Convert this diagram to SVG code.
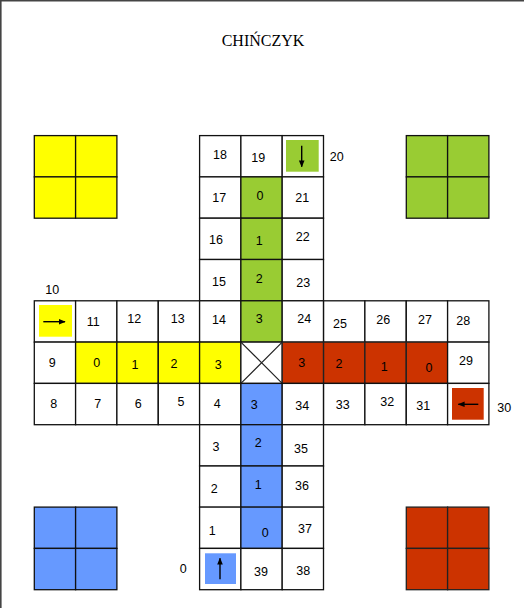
<svg xmlns="http://www.w3.org/2000/svg" width="524" height="608" viewBox="0 0 524 608">
<style>
.bg{fill:#ffffff}
.c{fill:#ffffff;stroke:#111;stroke-width:1.3}
.y{fill:#ffff00;stroke:#111;stroke-width:1.3}
.g{fill:#99cc33;stroke:#111;stroke-width:1.3}
.r{fill:#cc3300;stroke:#222;stroke-width:1.3}
.b{fill:#6699ff;stroke:#111;stroke-width:1.3}
.t{font-family:"Liberation Sans",Arial,sans-serif;font-size:12.5px;fill:#000;text-anchor:middle}
.title{font-family:"Liberation Serif","Times New Roman",serif;font-size:16px;fill:#000;text-anchor:middle}
.ar{stroke:#000;stroke-width:1.4;fill:none}
.xl{stroke:#222;stroke-width:1.2}
</style>
<defs>
<marker id="ah" viewBox="0 0 10 10" refX="9" refY="5" markerWidth="7" markerHeight="7" markerUnits="userSpaceOnUse" orient="auto">
<path d="M0,1 L10,5 L0,9 Z" fill="#000"/>
</marker>
</defs>
<rect class="bg" x="0" y="0" width="524" height="608"/>
<path d="M0.8,608 L0.8,0.8 L524,0.8" stroke="#444" stroke-width="1.6" fill="none"/>
<text class="title" x="263" y="45.7">CHIŃCZYK</text>

<!-- corner home areas -->
<g id="home-yellow">
<rect class="y" x="34.3" y="135.6" width="41.3" height="41.3"/><rect class="y" x="75.6" y="135.6" width="41.3" height="41.3"/>
<rect class="y" x="34.3" y="176.9" width="41.3" height="41.3"/><rect class="y" x="75.6" y="176.9" width="41.3" height="41.3"/>
</g>
<g id="home-green">
<rect class="g" x="406.3" y="135.6" width="41.3" height="41.3"/><rect class="g" x="447.6" y="135.6" width="41.3" height="41.3"/>
<rect class="g" x="406.3" y="176.9" width="41.3" height="41.3"/><rect class="g" x="447.6" y="176.9" width="41.3" height="41.3"/>
</g>
<g id="home-blue">
<rect class="b" x="34.3" y="507.1" width="41.3" height="41.3"/><rect class="b" x="75.6" y="507.1" width="41.3" height="41.3"/>
<rect class="b" x="34.3" y="548.4" width="41.3" height="41.3"/><rect class="b" x="75.6" y="548.4" width="41.3" height="41.3"/>
</g>
<g id="home-red">
<rect class="r" x="406.3" y="507.1" width="41.3" height="41.3"/><rect class="r" x="447.6" y="507.1" width="41.3" height="41.3"/>
<rect class="r" x="406.3" y="548.4" width="41.3" height="41.3"/><rect class="r" x="447.6" y="548.4" width="41.3" height="41.3"/>
</g>

<!-- top arm -->
<g id="cell-18"><rect class="c" x="199.6" y="135.6" width="41.3" height="41.3"/><text class="t" x="220" y="159">18</text></g>
<g id="cell-19"><rect class="c" x="240.9" y="135.6" width="41.3" height="41.3"/><text class="t" x="258.3" y="161.7">19</text></g>
<g id="cell-20"><rect class="c" x="282.2" y="135.6" width="41.3" height="41.3"/><rect x="286" y="140" width="32.7" height="31.7" fill="#99cc33"/><text class="t" x="336.7" y="160.7">20</text></g>
<g id="cell-17"><rect class="c" x="199.6" y="176.9" width="41.3" height="41.3"/><text class="t" x="219.3" y="201.7">17</text></g>
<g id="green-0"><rect class="g" x="240.9" y="176.9" width="41.3" height="41.3"/><text class="t" x="260" y="200">0</text></g>
<g id="cell-21"><rect class="c" x="282.2" y="176.9" width="41.3" height="41.3"/><text class="t" x="302.3" y="201.7">21</text></g>
<g id="cell-16"><rect class="c" x="199.6" y="218.2" width="41.3" height="41.3"/><text class="t" x="216" y="244">16</text></g>
<g id="green-1"><rect class="g" x="240.9" y="218.2" width="41.3" height="41.3"/><text class="t" x="259.3" y="245">1</text></g>
<g id="cell-22"><rect class="c" x="282.2" y="218.2" width="41.3" height="41.3"/><text class="t" x="302.7" y="241">22</text></g>
<g id="cell-15"><rect class="c" x="199.6" y="259.5" width="41.3" height="41.3"/><text class="t" x="219" y="285.7">15</text></g>
<g id="green-2"><rect class="g" x="240.9" y="259.5" width="41.3" height="41.3"/><text class="t" x="259.3" y="283.3">2</text></g>
<g id="cell-23"><rect class="c" x="282.2" y="259.5" width="41.3" height="41.3"/><text class="t" x="303.3" y="287">23</text></g>

<!-- middle band, row 1 -->
<g id="cell-10"><rect class="c" x="34.3" y="300.8" width="41.3" height="41.3"/><rect x="39" y="305" width="33" height="31.7" fill="#ffff00"/><text class="t" x="52.3" y="294">10</text></g>
<g id="cell-11"><rect class="c" x="75.6" y="300.8" width="41.3" height="41.3"/><text class="t" x="93.3" y="325.7">11</text></g>
<g id="cell-12"><rect class="c" x="116.9" y="300.8" width="41.3" height="41.3"/><text class="t" x="134.3" y="323.3">12</text></g>
<g id="cell-13"><rect class="c" x="158.3" y="300.8" width="41.3" height="41.3"/><text class="t" x="177.7" y="323.3">13</text></g>
<g id="cell-14"><rect class="c" x="199.6" y="300.8" width="41.3" height="41.3"/><text class="t" x="219" y="323.7">14</text></g>
<g id="green-3"><rect class="g" x="240.9" y="300.8" width="41.3" height="41.3"/><text class="t" x="259.3" y="322.7">3</text></g>
<g id="cell-24"><rect class="c" x="282.2" y="300.8" width="41.3" height="41.3"/><text class="t" x="304.3" y="323.3">24</text></g>
<g id="cell-25"><rect class="c" x="323.6" y="300.8" width="41.3" height="41.3"/><text class="t" x="340" y="327.7">25</text></g>
<g id="cell-26"><rect class="c" x="364.9" y="300.8" width="41.3" height="41.3"/><text class="t" x="383.3" y="324.3">26</text></g>
<g id="cell-27"><rect class="c" x="406.3" y="300.8" width="41.3" height="41.3"/><text class="t" x="425" y="324.3">27</text></g>
<g id="cell-28"><rect class="c" x="447.6" y="300.8" width="41.3" height="41.3"/><text class="t" x="463.3" y="325.3">28</text></g>

<!-- middle band, row 2 -->
<g id="cell-9"><rect class="c" x="34.3" y="342.1" width="41.3" height="41.3"/><text class="t" x="52.3" y="367">9</text></g>
<g id="yellow-0"><rect class="y" x="75.6" y="342.1" width="41.3" height="41.3"/><text class="t" x="96.7" y="367">0</text></g>
<g id="yellow-1"><rect class="y" x="116.9" y="342.1" width="41.3" height="41.3"/><text class="t" x="135" y="369.3">1</text></g>
<g id="yellow-2"><rect class="y" x="158.3" y="342.1" width="41.3" height="41.3"/><text class="t" x="174" y="368.3">2</text></g>
<g id="yellow-3"><rect class="y" x="199.6" y="342.1" width="41.3" height="41.3"/><text class="t" x="218.3" y="368.7">3</text></g>
<g id="center"><rect class="c" x="240.9" y="342.1" width="41.3" height="41.3"/><path class="xl" d="M240.9,342.1 L282.2,383.4 M282.2,342.1 L240.9,383.4"/></g>
<g id="red-3"><rect class="r" x="282.2" y="342.1" width="41.3" height="41.3"/><text class="t" x="301.7" y="366.7">3</text></g>
<g id="red-2"><rect class="r" x="323.6" y="342.1" width="41.3" height="41.3"/><text class="t" x="339" y="368.3">2</text></g>
<g id="red-1"><rect class="r" x="364.9" y="342.1" width="41.3" height="41.3"/><text class="t" x="384.3" y="371">1</text></g>
<g id="red-0"><rect class="r" x="406.3" y="342.1" width="41.3" height="41.3"/><text class="t" x="429" y="372">0</text></g>
<g id="cell-29"><rect class="c" x="447.6" y="342.1" width="41.3" height="41.3"/><text class="t" x="466" y="365">29</text></g>

<!-- middle band, row 3 -->
<g id="cell-8"><rect class="c" x="34.3" y="383.4" width="41.3" height="41.3"/><text class="t" x="53.7" y="407.7">8</text></g>
<g id="cell-7"><rect class="c" x="75.6" y="383.4" width="41.3" height="41.3"/><text class="t" x="97.7" y="407.7">7</text></g>
<g id="cell-6"><rect class="c" x="116.9" y="383.4" width="41.3" height="41.3"/><text class="t" x="138.3" y="407.7">6</text></g>
<g id="cell-5"><rect class="c" x="158.3" y="383.4" width="41.3" height="41.3"/><text class="t" x="181" y="406">5</text></g>
<g id="cell-4"><rect class="c" x="199.6" y="383.4" width="41.3" height="41.3"/><text class="t" x="217.3" y="407.7">4</text></g>
<g id="blue-3"><rect class="b" x="240.9" y="383.4" width="41.3" height="41.3"/><text class="t" x="254.3" y="409.3">3</text></g>
<g id="cell-34"><rect class="c" x="282.2" y="383.4" width="41.3" height="41.3"/><text class="t" x="302.3" y="410">34</text></g>
<g id="cell-33"><rect class="c" x="323.6" y="383.4" width="41.3" height="41.3"/><text class="t" x="342.7" y="409">33</text></g>
<g id="cell-32"><rect class="c" x="364.9" y="383.4" width="41.3" height="41.3"/><text class="t" x="387.3" y="406">32</text></g>
<g id="cell-31"><rect class="c" x="406.3" y="383.4" width="41.3" height="41.3"/><text class="t" x="423.3" y="410">31</text></g>
<g id="cell-30"><rect class="c" x="447.6" y="383.4" width="41.3" height="41.3"/><rect x="452" y="388" width="31.7" height="31.7" fill="#cc3300"/><text class="t" x="504.3" y="412.3">30</text></g>

<!-- bottom arm -->
<g id="cell-3"><rect class="c" x="199.6" y="424.7" width="41.3" height="41.3"/><text class="t" x="216" y="450.7">3</text></g>
<g id="blue-2"><rect class="b" x="240.9" y="424.7" width="41.3" height="41.3"/><text class="t" x="258.3" y="447.3">2</text></g>
<g id="cell-35"><rect class="c" x="282.2" y="424.7" width="41.3" height="41.3"/><text class="t" x="301" y="452.7">35</text></g>
<g id="cell-2"><rect class="c" x="199.6" y="466" width="41.3" height="41.3"/><text class="t" x="214.3" y="492.7">2</text></g>
<g id="blue-1"><rect class="b" x="240.9" y="466" width="41.3" height="41.3"/><text class="t" x="258.3" y="489">1</text></g>
<g id="cell-36"><rect class="c" x="282.2" y="466" width="41.3" height="41.3"/><text class="t" x="302" y="490">36</text></g>
<g id="cell-1"><rect class="c" x="199.6" y="507.1" width="41.3" height="41.3"/><text class="t" x="212.3" y="535">1</text></g>
<g id="blue-0"><rect class="b" x="240.9" y="507.1" width="41.3" height="41.3"/><text class="t" x="265.3" y="536.7">0</text></g>
<g id="cell-37"><rect class="c" x="282.2" y="507.1" width="41.3" height="41.3"/><text class="t" x="305" y="532.7">37</text></g>
<g id="cell-0"><rect class="c" x="199.6" y="548.4" width="41.3" height="41.3"/><rect x="205" y="553.3" width="31" height="30.7" fill="#6699ff"/><text class="t" x="183.3" y="572.7">0</text></g>
<g id="cell-39"><rect class="c" x="240.9" y="548.4" width="41.3" height="41.3"/><text class="t" x="261" y="575.7">39</text></g>
<g id="cell-38"><rect class="c" x="282.2" y="548.4" width="41.3" height="41.3"/><text class="t" x="303.3" y="575">38</text></g>

<!-- direction arrows -->
<g id="arrows">
<line class="ar" x1="301.7" y1="145.7" x2="301.7" y2="166.7" marker-end="url(#ah)"/>
<line class="ar" x1="43.3" y1="321.7" x2="65" y2="321.7" marker-end="url(#ah)"/>
<line class="ar" x1="478.3" y1="404.3" x2="458.3" y2="404.3" marker-end="url(#ah)"/>
<line class="ar" x1="220" y1="579.3" x2="220" y2="558.3" marker-end="url(#ah)"/>
</g>
</svg>
